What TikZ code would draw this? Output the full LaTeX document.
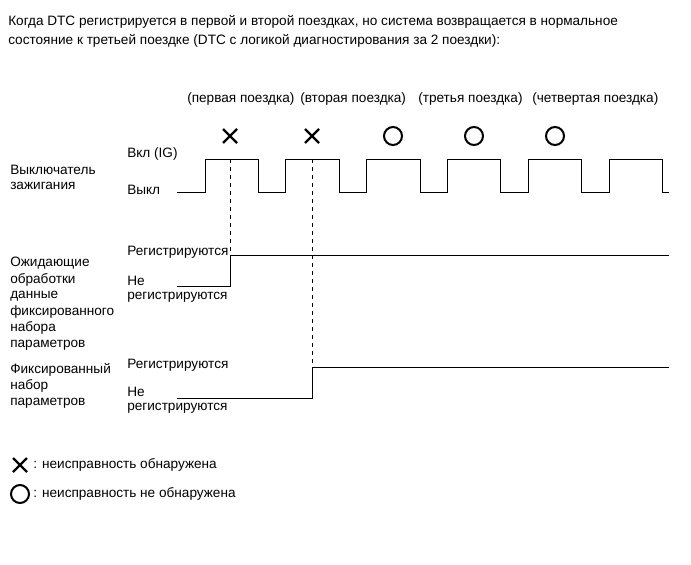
\documentclass[tikz,border=0pt]{standalone}
\usepackage{fontspec}
\setmainfont{Liberation Sans}
\begin{document}
\begin{tikzpicture}[x=0.75pt,y=-0.75pt,font=\fontsize{10.2}{12}\selectfont,
 lbl/.style={anchor=west,inner sep=0pt},
 wave/.style={line width=0.75pt},
 xm/.style={line width=1.8pt},
 om/.style={line width=1.5pt}]
\useasboundingbox (0,0) rectangle (691,564);
\node[lbl] (h1) at (8,22) {Когда DTC регистрируется в первой и второй поездках, но система возвращается в нормальное};
\node[lbl] (h2) at (8,41) {состояние к третьей поездке (DTC с логикой диагностирования за 2 поездки):};
\node[lbl] (t1) at (187,99) {(первая поездка)};
\node[lbl] (t2) at (300,99) {(вторая поездка)};
\node[lbl] (t3) at (418,99) {(третья поездка)};
\node[lbl] (t4) at (532,99) {(четвертая поездка)};
\foreach \x in {230,312}{
 \draw[xm] (\x-7,129)--(\x+7,143) (\x-7,143)--(\x+7,129);}
\foreach \x in {393,474,555}{\draw[om] (\x,136) circle (9);}
\node[lbl] (s1) at (10,170) {Выключатель};
\node[lbl] (s2) at (10,186) {зажигания};
\node[lbl] (on) at (127,154) {Вкл (IG)};
\node[lbl] (off) at (127,190) {Выкл};
\draw[wave] (177,192)--(205,192)--(205,159)--(258,159)--(258,192)--(285,192)--(285,159)--(339,159)--(339,192)--(366,192)--(366,159)--(420,159)--(420,192)--(447,192)--(447,159)--(500,159)--(500,192)--(528,192)--(528,159)--(581,159)--(581,192)--(609,192)--(609,159)--(662,159)--(662,192)--(669,192);
\draw[dashed] (230,159)--(230,286);
\draw[dashed] (312,159)--(312,367);
\foreach \y/\t in {263/Ожидающие,280/обработки,296/данные,312/фиксированного,328/набора,345/параметров}{\node[lbl] at (10,\y) {\t};}
\node[lbl] at (127,252) {Регистрируются};
\node[lbl] at (127,281) {Не};
\node[lbl] at (127,297) {регистрируются};
\draw[wave] (177,286)--(230,286)--(230,255)--(669,255);
\foreach \y/\t in {370/Фиксированный,386/набор,403/параметров}{\node[lbl] at (10,\y) {\t};}
\node[lbl] at (127,365) {Регистрируются};
\node[lbl] at (127,392) {Не};
\node[lbl] at (127,408) {регистрируются};
\draw[wave] (177,398)--(312,398)--(312,367)--(669,367);
\draw[xm] (13,458)--(27,472) (13,472)--(27,458);
\node[lbl] at (33,465) {: неисправность обнаружена};
\draw[om] (20,494) circle (9);
\node[lbl] at (33,494) {: неисправность не обнаружена};
\end{tikzpicture}
\end{document}
